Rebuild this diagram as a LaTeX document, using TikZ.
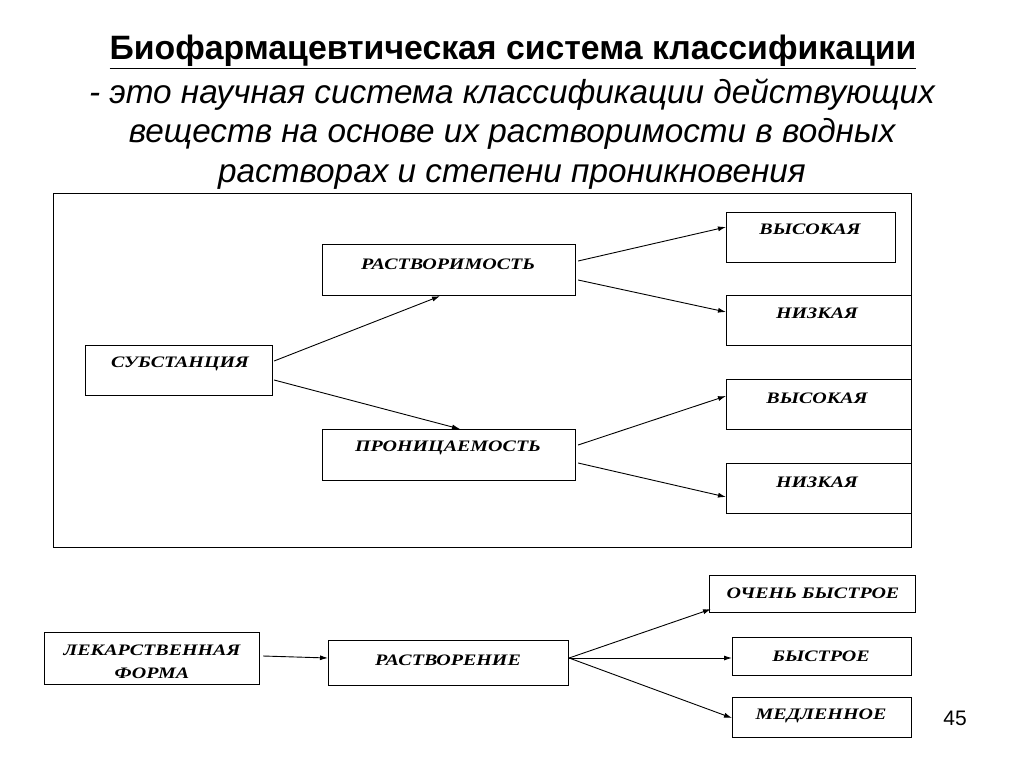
\documentclass[tikz,border=0pt]{standalone}
\usepackage{fontspec}
\setmainfont{Liberation Sans}
\newfontfamily\boxfont[FakeStretch=1.25]{Liberation Serif}
\usetikzlibrary{arrows.meta,calc}
\begin{document}
\begin{tikzpicture}[x=1pt,y=-1pt,
  box/.style={draw,line width=1.1pt,anchor=north west,inner sep=0pt},
  lbl/.style={font=\boxfont\bfseries\itshape\fontsize{16}{18}\selectfont,align=center},
  arr/.style={-{Latex[length=8pt,width=5pt]},line width=0.9pt}]
\useasboundingbox (0,0) rectangle (1024,767);
% title
\node[font=\fontsize{33.8}{40}\selectfont\bfseries,align=center] (t1) at (513,52) {\underline{Биофармацевтическая система классификации}};
\node[font=\fontsize{33.3}{39.5}\selectfont\itshape,align=center] (t2) at (512,134) {- это научная система классификации действующих\\веществ на основе их растворимости в водных\\растворах и степени проникновения};
% frame
\node[box,line width=1pt,minimum width=858pt,minimum height=354pt] (frame) at (53,193) {};
% boxes
\node[box,minimum width=253pt,minimum height=51pt] (rast) at (322,244) {};
\node[lbl] (rastL) at (448,264) {РАСТВОРИМОСТЬ};
\node[box,minimum width=187pt,minimum height=50pt] (sub) at (85,345) {};
\node[lbl] (subL) at (180,364) {СУБСТАНЦИЯ};
\node[box,minimum width=253pt,minimum height=51pt] (pron) at (322,429) {};
\node[lbl] (pronL) at (448,448) {ПРОНИЦАЕМОСТЬ};
\node[box,minimum width=169pt,minimum height=50pt] (v1) at (726,212) {};
\node[lbl] (v1L) at (810,229) {ВЫСОКАЯ};
\node[box,minimum width=185pt,minimum height=50pt] (n1) at (726,295) {};
\node[lbl] (n1L) at (817,313) {НИЗКАЯ};
\node[box,minimum width=185pt,minimum height=50pt] (v2) at (726,379) {};
\node[lbl] (v2L) at (817,398) {ВЫСОКАЯ};
\node[box,minimum width=185pt,minimum height=50pt] (n2) at (726,463) {};
\node[lbl] (n2L) at (817,482) {НИЗКАЯ};
% bottom
\node[box,minimum width=215pt,minimum height=52pt] (lf) at (44,632) {};
\node[lbl,font=\boxfont\bfseries\itshape\fontsize{16}{23}\selectfont] (lfL) at (152,662) {ЛЕКАРСТВЕННАЯ\\ФОРМА};
\node[box,minimum width=240pt,minimum height=45pt] (rv) at (328,640) {};
\node[lbl] (rvL) at (448,660) {РАСТВОРЕНИЕ};
\node[box,minimum width=206pt,minimum height=37pt] (ob) at (709,575) {};
\node[lbl] (obL) at (813,593) {ОЧЕНЬ БЫСТРОЕ};
\node[box,minimum width=179pt,minimum height=38pt] (b) at (732,637) {};
\node[lbl] (bL) at (821,656) {БЫСТРОЕ};
\node[box,minimum width=179pt,minimum height=40pt] (m) at (732,697) {};
\node[lbl] (mL) at (821,716) {МЕДЛЕННОЕ};
\node[font=\fontsize{21}{24}\selectfont] (num) at (955,718) {45};
% arrows
\draw[arr] ($(sub.north east)+(1,16)$) -- ($(rast.south west)+(118,0)$);
\draw[arr] ($(sub.north east)+(1,35)$) -- ($(pron.north west)+(138,0)$);
\draw[arr] ($(rast.north east)+(2,17)$) -- ($(v1.north west)+(0,15)$);
\draw[arr] ($(rast.north east)+(2,36)$) -- ($(n1.north west)+(0,17)$);
\draw[arr] ($(pron.north east)+(2,16)$) -- ($(v2.north west)+(0,17)$);
\draw[arr] ($(pron.north east)+(2,34)$) -- ($(n2.north west)+(0,34)$);
\draw[arr] ($(lf.north east)+(3,24)$) -- ($(rv.north west)+(0,18)$);
\draw[arr] ($(rv.north east)+(0,18)$) -- ($(ob.south west)+(2,-4)$);
\draw[arr] ($(rv.north east)+(0,18)$) -- ($(b.north west)+(0,21)$);
\draw[arr] ($(rv.north east)+(0,18)$) -- ($(m.north west)+(0,21)$);
\end{tikzpicture}
\end{document}
